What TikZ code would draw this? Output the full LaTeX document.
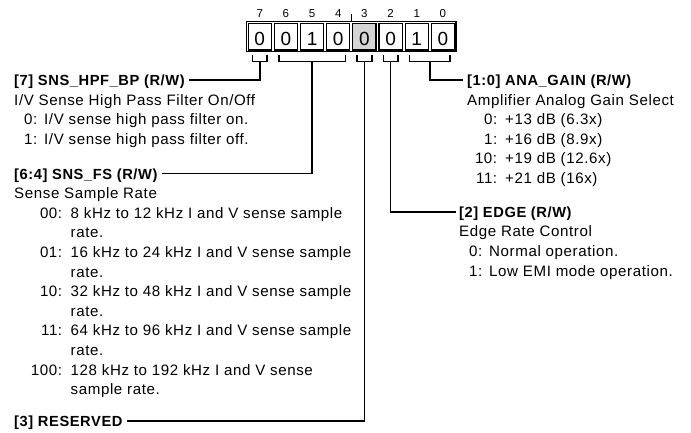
\documentclass[tikz,border=0pt]{standalone}
\usepackage{fontspec}
\setmainfont{Liberation Sans}[LetterSpace=4]
\definecolor{cellgray}{HTML}{D4D4D4}
\begin{document}
\begin{tikzpicture}[x=1pt,y=-1pt,
  txt/.style={inner sep=0pt,anchor=base west,font=\fontsize{15.1}{19.6}\selectfont},
  hdr/.style={txt,font=\fontsize{14.67}{19.6}\selectfont\bfseries},
  conn/.style={line width=1.6pt},
  cellbox/.style={line width=1.3pt},
  frame/.style={line width=1.5pt},
  bitnum/.style={inner sep=0pt,anchor=base,font=\fontsize{11.5}{13}\selectfont},
  bitval/.style={inner sep=0pt,anchor=base,font=\fontsize{19}{22}\selectfont}]
\useasboundingbox (0,0) rectangle (691,433);

% register cells
\fill[cellgray] (352.84,23.2) rectangle (376.0,50);
\foreach \k/\b/\v in {0/7/0,1/6/0,2/5/1,3/4/0,4/3/0,5/2/0,6/1/1,7/0/0} {
  \pgfmathsetmacro\xl{246.7+26.16*\k}
  \pgfmathsetmacro\xr{\xl+26.16}
  \pgfmathsetmacro\xc{\xl+13.08}
  \draw[cellbox] (\xl+1.5,23.2) rectangle (\xr-1.5,50);
  \node[bitval] (v\b) at (\xc,46) {\v};
  \node[bitnum] (n\b) at (\xc,17.3) {\b};
}
\draw[frame] (246.7,21.7) rectangle (456,51.5);
\draw[frame] (351.34,14.5) -- (351.34,21.7);

% brackets
\foreach \a/\c in {252.5/267.1, 278.7/345.6, 357.1/371.7, 383.3/397.9, 409.5/450.2}
  \draw[conn] (\a,55) -- (\a,61.7) -- (\c,61.7) -- (\c,55);
\coordinate (s7) at (259.8,61.7);
\coordinate (s64) at (312.15,61.7);
\coordinate (s3) at (364.4,61.7);
\coordinate (s2) at (390.6,61.7);
\coordinate (s10) at (429.85,61.7);

% left column
\node[hdr] (h7) at (14,85.5) {[7] SNS\_HPF\_BP (R/W)};
\node[txt] (d7) at (14,105.1) {\begin{tabular}[t]{@{}l@{}}
I/V Sense High Pass Filter On/Off\\
\makebox[23pt][r]{0:}\hspace{7pt}I/V sense high pass filter on.\\
\makebox[23pt][r]{1:}\hspace{7pt}I/V sense high pass filter off.
\end{tabular}};

\node[hdr] (h64) at (14,179) {[6:4] SNS\_FS (R/W)};
\node[txt] (d64) at (14,198.6) {\begin{tabular}[t]{@{}l@{}}
Sense Sample Rate\\
\makebox[48pt][r]{00:}\hspace{8.5pt}8 kHz to 12 kHz I and V sense sample\\
\hspace*{56.5pt}rate.\\
\makebox[48pt][r]{01:}\hspace{8.5pt}16 kHz to 24 kHz I and V sense sample\\
\hspace*{56.5pt}rate.\\
\makebox[48pt][r]{10:}\hspace{8.5pt}32 kHz to 48 kHz I and V sense sample\\
\hspace*{56.5pt}rate.\\
\makebox[48pt][r]{11:}\hspace{8.5pt}64 kHz to 96 kHz I and V sense sample\\
\hspace*{56.5pt}rate.\\
\makebox[48pt][r]{100:}\hspace{8.5pt}128 kHz to 192 kHz I and V sense\\
\hspace*{56.5pt}sample rate.
\end{tabular}};

\node[hdr] (h3) at (14,426.5) {[3] RESERVED};

% right column
\node[hdr] (h10) at (467,85.5) {[1:0] ANA\_GAIN (R/W)};
\node[txt] (d10) at (467,105.1) {\begin{tabular}[t]{@{}l@{}}
Amplifier Analog Gain Select\\
\makebox[30pt][r]{0:}\hspace{8pt}+13 dB (6.3x)\\
\makebox[30pt][r]{1:}\hspace{8pt}+16 dB (8.9x)\\
\makebox[30pt][r]{10:}\hspace{8pt}+19 dB (12.6x)\\
\makebox[30pt][r]{11:}\hspace{8pt}+21 dB (16x)
\end{tabular}};

\node[hdr] (h2) at (459,217.2) {[2] EDGE (R/W)};
\node[txt] (d2) at (459,236.8) {\begin{tabular}[t]{@{}l@{}}
Edge Rate Control\\
\makebox[23pt][r]{0:}\hspace{7pt}Normal operation.\\
\makebox[23pt][r]{1:}\hspace{7pt}Low EMI mode operation.
\end{tabular}};

% connectors
\draw[conn] (s7) |- ([shift={(4,-5.3)}]h7.base east);
\draw[conn] (s64) |- ([shift={(4,-5.3)}]h64.base east);
\draw[conn] (s3) |- ([shift={(4,-5.3)}]h3.base east);
\draw[conn] (s10) |- ([shift={(-4,-5.3)}]h10.base west);
\draw[conn] (s2) |- ([shift={(-3,-5.3)}]h2.base west);
\end{tikzpicture}
\end{document}
